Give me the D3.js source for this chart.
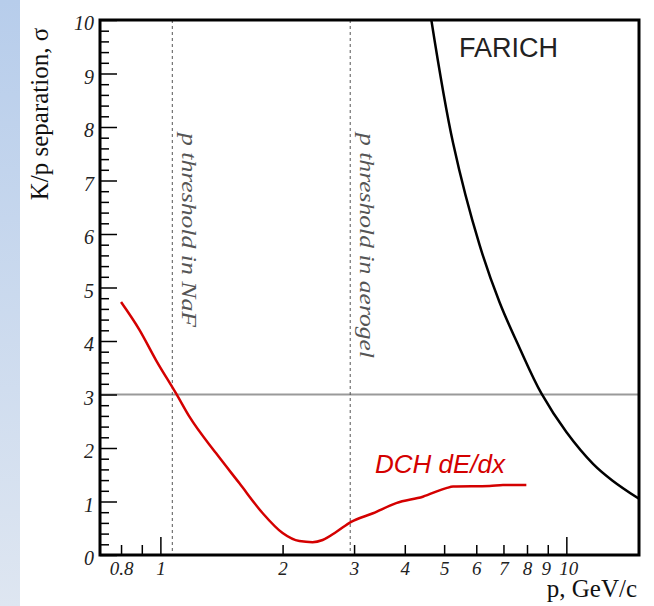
<!DOCTYPE html>
<html>
<head>
<meta charset="utf-8">
<script src="https://cdn.jsdelivr.net/npm/d3@7"></script>
<style>
  html, body { margin: 0; padding: 0; background: #fff; }
  svg { display: block; }
</style>
</head>
<body>
<svg id="chart" width="654" height="606"></svg>
<script>
// ---- data ----
const dchP     = [0.80, 0.888, 0.976, 1.093, 1.179, 1.372, 1.566, 1.787, 2.00, 2.20, 2.37, 2.51, 2.71, 2.95, 3.34, 3.81, 4.43, 5.06, 5.26, 6.47, 6.98, 7.97];
const dchSigma = [4.73, 4.21, 3.64, 3.02, 2.585, 1.90, 1.34, 0.78, 0.41, 0.26, 0.24, 0.28, 0.43, 0.62, 0.78, 0.97, 1.09, 1.25, 1.28, 1.29, 1.31, 1.31];

const farichP     = [4.65, 5.26, 6.11, 6.85, 7.67, 8.68, 10.0, 11.65, 13.0, 15.1];
const farichSigma = [10.0, 7.70, 5.80, 4.72, 3.87, 3.02, 2.30, 1.70, 1.39, 1.05];

const thresholdP      = [1.07, 2.935];
const thresholdLabels = ["p threshold in NaF", "p threshold in aerogel"];
const separationLevel = [3];

const xMinorTicks = [0.8, 0.9, 2, 3, 4, 5, 6, 7, 8, 9];
const xMajorTicks = [1, 10];
const xLabelTicks = [0.8, 1, 2, 3, 4, 5, 6, 7, 8, 9, 10];
const yMajorTicks = [0, 1, 2, 3, 4, 5, 6, 7, 8, 9, 10];
const yMinorTicks = d3.range(0, 50).map(i => i / 5).filter(v => v % 1 !== 0);

// ---- layout ----
const svg = d3.select("#chart");
const L = 100, R = 639, T = 20, B = 555;

const x = d3.scaleLog().domain([0.71, 15.1]).range([L, R]);
const y = d3.scaleLinear().domain([0, 10]).range([B, T]);

// left gradient strip
const defs = svg.append("defs");
const grad = defs.append("linearGradient").attr("id", "strip").attr("x1", 0).attr("y1", 0).attr("x2", 0).attr("y2", 1);
grad.append("stop").attr("offset", "0%").attr("stop-color", "#b7cdeb");
grad.append("stop").attr("offset", "100%").attr("stop-color", "#dee6f1");
svg.append("rect").attr("x", 0).attr("y", 0).attr("width", 20).attr("height", 606).attr("fill", "url(#strip)");

defs.append("clipPath").attr("id", "plotclip")
  .append("rect").attr("x", L).attr("y", T).attr("width", R - L).attr("height", B - T);

const plot = svg.append("g").attr("clip-path", "url(#plotclip)");

// horizontal 3 sigma line
plot.selectAll(".hline").data(separationLevel).enter().append("line")
  .attr("x1", L).attr("x2", R)
  .attr("y1", d => y(d)).attr("y2", d => y(d))
  .attr("stroke", "#9a9a9a").attr("stroke-width", 2);

// threshold dashed lines
plot.selectAll(".vline").data(thresholdP).enter().append("line")
  .attr("x1", d => x(d)).attr("x2", d => x(d))
  .attr("y1", T).attr("y2", B)
  .attr("stroke", "#555").attr("stroke-width", 1).attr("stroke-dasharray", "3,3");

// curves
const line = d3.line().x(d => x(d[0])).y(d => y(d[1])).curve(d3.curveMonotoneX);

plot.append("path")
  .datum(dchP.map((p, i) => [p, dchSigma[i]]))
  .attr("d", line)
  .attr("fill", "none").attr("stroke", "#d40000").attr("stroke-width", 2.5);

plot.append("path")
  .datum(farichP.map((p, i) => [p, farichSigma[i]]))
  .attr("d", line.curve(d3.curveCatmullRom.alpha(0.5)))
  .attr("fill", "none").attr("stroke", "#000").attr("stroke-width", 2.5);

// ---- axes ----
const tickFont = "'Liberation Serif', 'Times New Roman', serif";

function styleAxis(g) {
  g.select(".domain").remove();
  g.selectAll(".tick line").attr("stroke", "#000").attr("stroke-width", 1.5);
  g.selectAll("text").attr("font-family", tickFont).attr("font-style", "italic")
    .attr("font-size", 20).attr("fill", "#222");
}

// y axis
svg.append("g").attr("transform", `translate(${L},0)`)
  .call(d3.axisLeft(y).tickValues(yMinorTicks).tickSize(-9).tickFormat(""))
  .call(styleAxis);
svg.append("g").attr("transform", `translate(${L},0)`)
  .call(d3.axisLeft(y).tickValues(yMajorTicks).tickSize(-17).tickPadding(6).tickFormat(d3.format("d")))
  .call(styleAxis)
  .call(g => g.selectAll("text").attr("dy", "0.48em"));

// x axis
svg.append("g").attr("transform", `translate(0,${B})`)
  .call(d3.axisBottom(x).tickValues(xMinorTicks).tickSize(-10).tickFormat(""))
  .call(styleAxis);
svg.append("g").attr("transform", `translate(0,${B})`)
  .call(d3.axisBottom(x).tickValues(xMajorTicks).tickSize(-18).tickFormat(""))
  .call(styleAxis);
svg.append("g").attr("transform", `translate(0,${B})`)
  .call(d3.axisBottom(x).tickValues(xLabelTicks).tickSize(0).tickPadding(7).tickFormat(d => String(d)))
  .call(styleAxis)
  .call(g => g.selectAll("text").attr("font-size", 19))
  .call(g => g.selectAll(".tick").filter(d => d === 9).select("text").attr("dx", "-2"))
  .call(g => g.selectAll(".tick").filter(d => d === 10).select("text").attr("dx", "2"));

// frame
svg.append("rect").attr("x", L).attr("y", T).attr("width", R - L).attr("height", B - T)
  .attr("fill", "none").attr("stroke", "#000").attr("stroke-width", 3);

// axis titles
svg.append("text")
  .attr("transform", `translate(48,114) rotate(-90)`)
  .attr("text-anchor", "middle")
  .attr("font-family", tickFont).attr("font-size", 25).attr("fill", "#111")
  .text("K/p separation, σ");

svg.append("text")
  .attr("x", 637).attr("y", 597)
  .attr("text-anchor", "end")
  .attr("font-family", tickFont).attr("font-size", 25).attr("fill", "#111")
  .text("p, GeV/c");

// threshold labels
const labelLen = [194, 225];
thresholdP.forEach((p, i) => {
  svg.append("text")
    .attr("transform", `translate(${x(p) + 10},133) rotate(90)`)
    .attr("font-family", tickFont).attr("font-style", "italic")
    .attr("font-size", 22).attr("fill", "#555")
    .attr("textLength", labelLen[i]).attr("lengthAdjust", "spacingAndGlyphs")
    .text(thresholdLabels[i]);
});

// series labels
svg.append("text")
  .attr("x", 459).attr("y", 57)
  .attr("font-family", "'Liberation Sans', Arial, sans-serif")
  .attr("font-size", 27).attr("fill", "#222")
  .text("FARICH");

svg.append("text")
  .attr("x", 375).attr("y", 473)
  .attr("font-family", "'Liberation Sans', Arial, sans-serif")
  .attr("font-style", "italic")
  .attr("font-size", 26).attr("fill", "#d40000")
  .text("DCH dE/dx");
</script>
</body>
</html>
